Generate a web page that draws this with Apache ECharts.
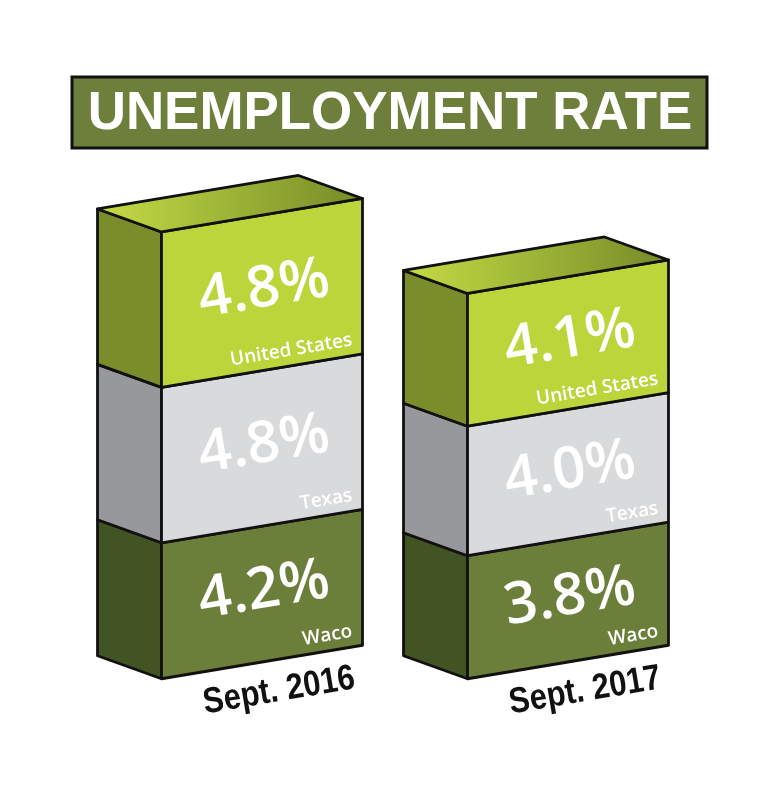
<!DOCTYPE html>
<html>
<head>
<meta charset="utf-8">
<script src="https://cdn.jsdelivr.net/npm/echarts@6/dist/echarts.min.js"></script>
<style>html,body{margin:0;padding:0;background:#fff;}#chart{width:781px;height:800px;}</style>
</head>
<body>
<div id="chart"></div>
<script>
// ---- data ----
const titleText = 'UNEMPLOYMENT RATE';
const categories = ['Sept. 2016', 'Sept. 2017'];
const seriesNames = ['Waco', 'Texas', 'United States'];
const waco = [4.2, 3.8];
const texas = [4.8, 4.0];
const unitedStates = [4.8, 4.1];

// ---- styles ----
const ANG = Math.atan2(33.5, 201);
const DEPTH = [-64, -23];
const palette = {
  'Waco': { front: '#6b7e3a', side: '#425423' },
  'Texas': { front: '#d9dadc', side: '#97989c' },
  'United States': { front: '#bcd53a', side: '#7b8d2a' }
};
const valueSeries = [waco, texas, unitedStates];

const chart = echarts.init(document.getElementById('chart'), null, { renderer: 'canvas' });

function add(p, d) { return [p[0] + d[0], p[1] + d[1]]; }

function makeRender(name, isTop) {
  const col = palette[name];
  return function (params, api) {
    const ci = api.value(0), base = api.value(1), val = api.value(2);
    const pb = api.coord([ci, base]);
    const pt = api.coord([ci, base + val]);
    const band = api.size([1, 0])[0];
    const hw = band * 0.3284;
    const sl = hw * Math.tan(ANG);
    const FLB = [pb[0] - hw, pb[1] + sl], FRB = [pb[0] + hw, pb[1] - sl];
    const FLT = [pt[0] - hw, pt[1] + sl], FRT = [pt[0] + hw, pt[1] - sl];
    const stroke = { stroke: '#111', lineWidth: 2.8, lineJoin: 'round' };
    const children = [];
    children.push({ type: 'polygon', shape: { points: [FLB, FLT, add(FLT, DEPTH), add(FLB, DEPTH)] },
      style: Object.assign({ fill: col.side }, stroke) });
    children.push({ type: 'polygon', shape: { points: [FLB, FRB, FRT, FLT] },
      style: Object.assign({ fill: col.front }, stroke) });
    if (isTop) {
      children.push({ type: 'polygon', shape: { points: [FLT, FRT, add(FRT, DEPTH), add(FLT, DEPTH)] },
        style: Object.assign({ fill: new echarts.graphic.LinearGradient(0, 0, 1, 0, [
          { offset: 0, color: '#c6db44' }, { offset: 0.35, color: '#a9c03a' }, { offset: 1, color: '#768a28' }]) }, stroke) });
    }
    // value label at centre of the front face
    const cy = (pb[1] + pt[1]) / 2 - 3;
    children.push({ type: 'text', x: pb[0] + 2, y: cy, rotation: ANG,
      style: { text: val.toFixed(1) + '%', fill: '#fff', fontSize: 58, fontWeight: 600,
        fontFamily: '"Open Sans", sans-serif', align: 'center', verticalAlign: 'middle',
        shadowColor: 'rgba(0,0,0,0.45)', shadowBlur: 3, shadowOffsetX: 2, shadowOffsetY: 2 } });
    // series name at bottom-right of the front face
    const inset = 9;
    const anchor = [FRB[0] - inset * Math.cos(ANG), FRB[1] + inset * Math.sin(ANG) - 6];
    children.push({ type: 'text', x: anchor[0], y: anchor[1], rotation: ANG,
      style: { text: name, fill: '#fff', fontSize: 19, fontWeight: 600,
        fontFamily: '"Open Sans", sans-serif', align: 'right', verticalAlign: 'bottom' } });
    return { type: 'group', children: children };
  };
}

const series = [];
const bases = categories.map(() => 0);
seriesNames.forEach((name, si) => {
  const data = categories.map((c, ci) => {
    const d = [ci, bases[ci], valueSeries[si][ci]];
    bases[ci] += valueSeries[si][ci];
    return d;
  });
  series.push({ type: 'custom', name: name, renderItem: makeRender(name, si === seriesNames.length - 1),
    data: data, clip: false, silent: true, encode: { x: 0, y: [1, 2] }, z: 2 + si });
});
// category labels under each bar
series.push({ type: 'custom', name: 'labels', data: categories.map((c, ci) => [ci, 0]), clip: false, silent: true,
  renderItem: function (params, api) {
    const p = api.coord([api.value(0), 0]);
    return { type: 'text', x: p[0] + 17, y: p[1] + 29, rotation: ANG, scaleX: 0.86,
      style: { text: categories[api.value(0)], fill: '#111', fontSize: 36, fontWeight: 'bold',
        fontFamily: '"Liberation Sans", Arial, sans-serif', align: 'center', verticalAlign: 'middle' } };
  } });

chart.setOption({
  backgroundColor: '#fff',
  animation: false,
  grid: { left: 109, right: 60, top: 144, bottom: 138 },
  xAxis: { type: 'category', data: categories, show: false },
  yAxis: { type: 'value', min: 0, max: 16, show: false },
  graphic: [
    { type: 'rect', shape: { x: 72, y: 77, width: 635, height: 71 },
      style: { fill: '#6d7f3b', stroke: '#111', lineWidth: 3 } },
    { type: 'text', x: 390, y: 114, scaleX: 0.98,
      style: { text: titleText, fill: '#fff', fontSize: 54, fontWeight: 'bold',
        fontFamily: '"Liberation Sans", Arial, sans-serif', align: 'center', verticalAlign: 'middle' } }
  ],
  series: series
});
</script>
</body>
</html>
